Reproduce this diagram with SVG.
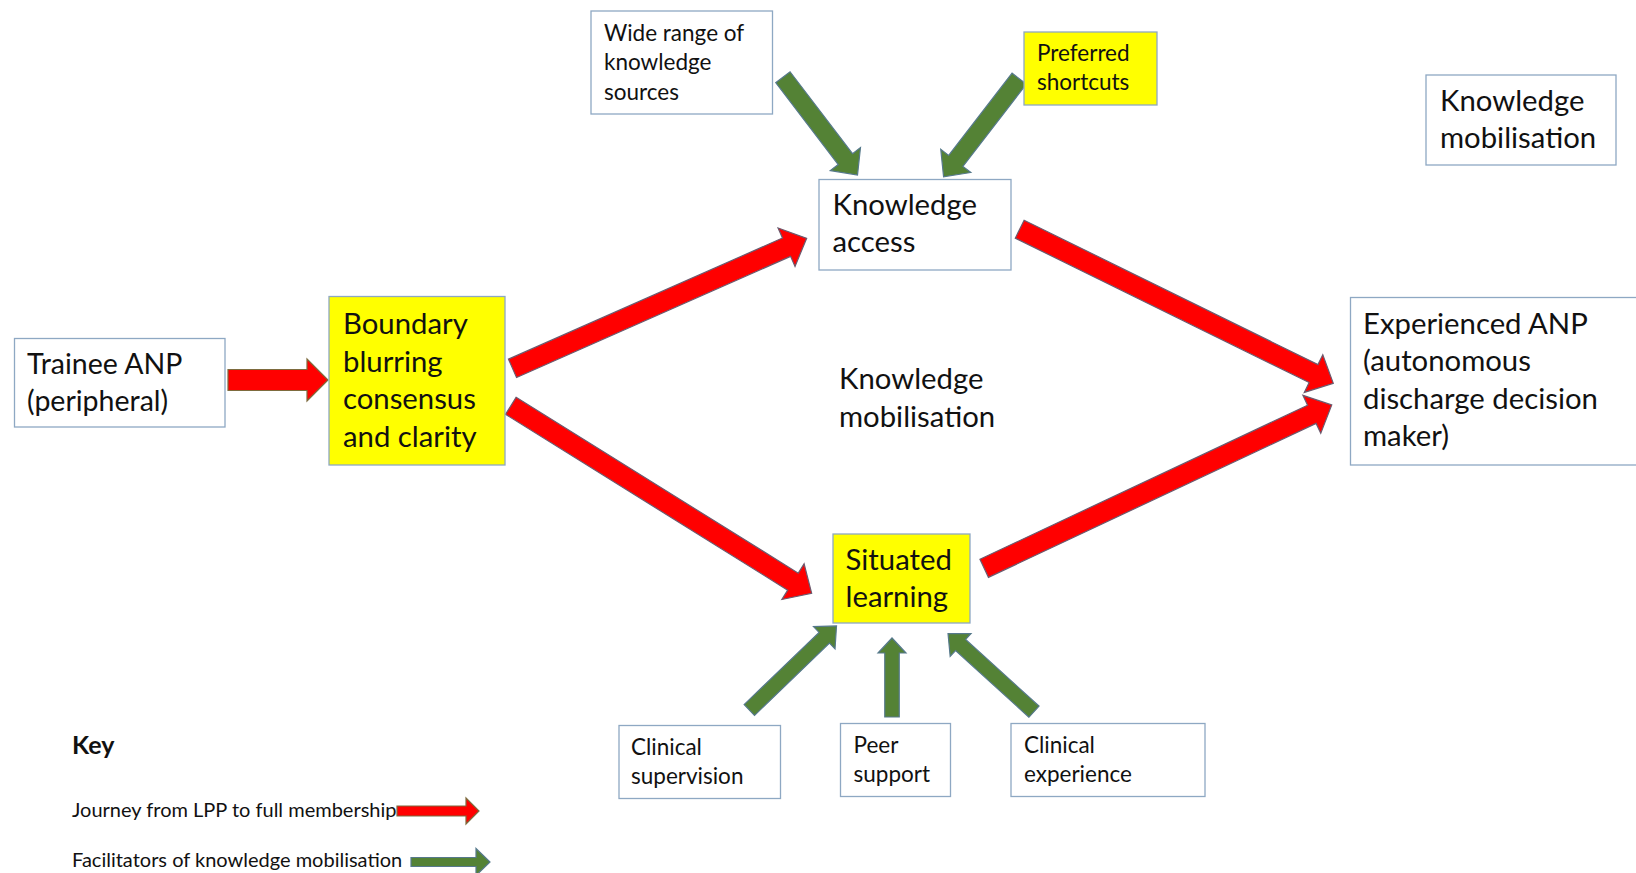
<svg xmlns="http://www.w3.org/2000/svg" width="1636" height="873" viewBox="0 0 1636 873">
  <style>
    text { font-family: Lato, "Liberation Sans", Arial, sans-serif; fill: #111; }
    .box { fill: #ffffff; stroke: #8ea8c3; stroke-width: 1.3; }
    .hl { fill: #ffff00; stroke: #8ea8c3; stroke-width: 1.3; }
    .lg { font-size: 29.3px; }
    .sm { font-size: 22.5px; }
    .key { font-size: 20px; }
    .red { fill: #ff0000; stroke: #6c5a6e; stroke-width: 1.2; stroke-linejoin: miter; }
    .red.olive { stroke: #7d6b3e; }
    .green { fill: #548235; stroke: #56798c; stroke-width: 1.2; }
  </style>

  <rect width="1636" height="873" fill="#ffffff"/>

  <!-- connectors: thick block arrows -->
  <g id="connectors">
    <polygon class="red olive" points="0,-10.5 79,-10.5 79,-21 100,0 79,21 79,10.5 0,10.5" transform="translate(228,380)"/>
    <polygon class="red" points="0,-10 299.6,-10 299.6,-21 321.6,0 299.6,21 299.6,10 0,10" transform="translate(512.5,368.3) rotate(-23.84)"/>
    <polygon class="red" points="0,-10 332.5,-10 332.5,-21 354.5,0 332.5,21 332.5,10 0,10" transform="translate(510.8,405.8) rotate(31.93)"/>
    <polygon class="red" points="0,-10 327.4,-10 327.4,-21 349.4,0 327.4,21 327.4,10 0,10" transform="translate(1019.7,229.2) rotate(26.17)"/>
    <polygon class="red" points="0,-10 362,-10 362,-21 384,0 362,21 362,10 0,10" transform="translate(984.2,568.3) rotate(-25.17)"/>

    <polygon class="green" points="0,-9 103,-9 103,-19 123,0 103,19 103,9 0,9" transform="translate(782.9,77.2) rotate(52.66)"/>
    <polygon class="green" points="0,-9 103.8,-9 103.8,-19 123.8,0 103.8,19 103.8,9 0,9" transform="translate(1019.2,78.7) rotate(127.65)"/>
    <polygon class="green" points="0,-7.5 104.1,-7.5 104.1,-15.5 121.1,0 104.1,15.5 104.1,7.5 0,7.5" transform="translate(749.3,710) rotate(-43.93)"/>
    <polygon class="green" points="0,-7.25 64,-7.25 64,-14 79,0 64,14 64,7.25 0,7.25" transform="translate(892,717) rotate(-90)"/>
    <polygon class="green" points="0,-7.5 99.2,-7.5 99.2,-15.5 116.2,0 99.2,15.5 99.2,7.5 0,7.5" transform="translate(1034,711.7) rotate(-137.72)"/>
  </g>

  <g id="wide-range">
    <rect class="box" x="591" y="11" width="181.5" height="103"/>
    <text class="sm"><tspan x="604" y="40.5">Wide range of</tspan><tspan x="604" y="70">knowledge</tspan><tspan x="604" y="99.5">sources</tspan></text>
  </g>

  <g id="preferred-shortcuts">
    <rect class="hl" x="1024" y="32" width="133" height="73"/>
    <text class="sm"><tspan x="1037" y="61">Preferred</tspan><tspan x="1037" y="90">shortcuts</tspan></text>
  </g>

  <g id="knowledge-access">
    <rect class="box" x="819" y="179.5" width="192" height="90.5"/>
    <text class="lg"><tspan x="832.5" y="215">Knowledge</tspan><tspan x="832.5" y="252">access</tspan></text>
  </g>

  <g id="knowledge-mobilisation-label">
    <rect class="box" x="1426" y="75" width="190" height="90"/>
    <text class="lg"><tspan x="1440" y="111">Knowledge</tspan><tspan x="1440" y="148">mobilisation</tspan></text>
  </g>

  <g id="trainee-anp">
    <rect class="box" x="14.5" y="338.5" width="210.5" height="88.5"/>
    <text class="lg" style="font-size:28.5px"><tspan x="27" y="374">Trainee ANP</tspan><tspan x="27" y="411">(peripheral)</tspan></text>
  </g>

  <g id="boundary-blurring">
    <rect class="hl" x="329" y="296.5" width="176" height="168.5"/>
    <text class="lg"><tspan x="343" y="334">Boundary</tspan><tspan x="343" y="371.5">blurring</tspan><tspan x="343" y="409">consensus</tspan><tspan x="343" y="446.5">and clarity</tspan></text>
  </g>

  <g id="knowledge-mobilisation-centre">
    <text class="lg"><tspan x="839" y="389">Knowledge</tspan><tspan x="839" y="426.5">mobilisation</tspan></text>
  </g>

  <g id="experienced-anp">
    <rect class="box" x="1350.5" y="297.5" width="300" height="167.5"/>
    <text class="lg"><tspan x="1363" y="334">Experienced ANP</tspan><tspan x="1363" y="371">(autonomous</tspan><tspan x="1363" y="408.5">discharge decision</tspan><tspan x="1363" y="445.5">maker)</tspan></text>
  </g>

  <g id="situated-learning">
    <rect class="hl" x="833" y="534" width="137" height="89"/>
    <text class="lg"><tspan x="845.5" y="569.5">Situated</tspan><tspan x="845.5" y="606.5">learning</tspan></text>
  </g>

  <g id="clinical-supervision">
    <rect class="box" x="619" y="725.5" width="161.5" height="73"/>
    <text class="sm"><tspan x="631" y="755">Clinical</tspan><tspan x="631" y="784">supervision</tspan></text>
  </g>

  <g id="peer-support">
    <rect class="box" x="840.5" y="723.5" width="110" height="73"/>
    <text class="sm"><tspan x="853.5" y="753">Peer</tspan><tspan x="853.5" y="782">support</tspan></text>
  </g>

  <g id="clinical-experience">
    <rect class="box" x="1011" y="723.5" width="194" height="73"/>
    <text class="sm"><tspan x="1024" y="753">Clinical</tspan><tspan x="1024" y="782">experience</tspan></text>
  </g>

  <!-- legend -->
  <g id="key">
    <text x="72" y="754" font-size="25px" font-weight="bold">Key</text>
    <text class="key" x="72" y="817">Journey from LPP to full membership</text>
    <polygon class="red olive" points="0,-5 69,-5 69,-13 82,0 69,13 69,5 0,5" transform="translate(397,811)"/>
    <text class="key" x="72" y="866.5">Facilitators of knowledge mobilisation</text>
    <polygon class="green" points="0,-4.5 65,-4.5 65,-13.5 79,0 65,13.5 65,4.5 0,4.5" transform="translate(411,862)"/>
  </g>
</svg>
